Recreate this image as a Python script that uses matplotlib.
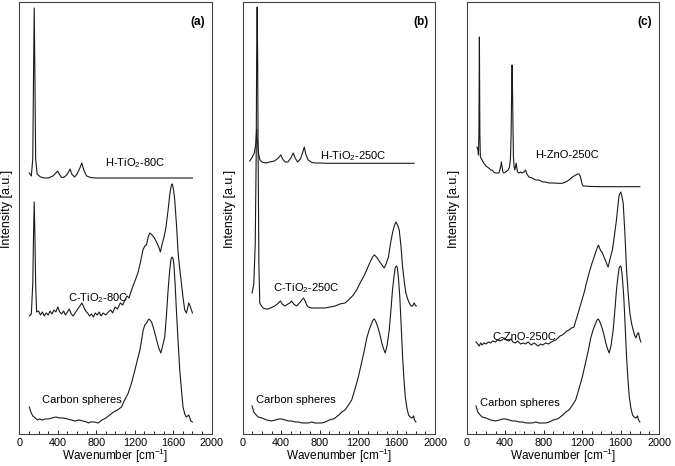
import matplotlib.pyplot as plt
from matplotlib.ticker import MultipleLocator

plt.rcParams['font.family'] = ['Liberation Sans', 'DejaVu Sans']
plt.rcParams['mathtext.fontset'] = 'custom'
plt.rcParams['mathtext.rm'] = 'Liberation Sans'
plt.rcParams['mathtext.it'] = 'Liberation Sans:italic'

# ---- panel (a) ----
a_h_x = [104, 125, 140, 148, 155, 162, 170, 185, 220, 260, 300, 350, 390, 400, 415, 440, 470, 500, 528,
         545, 575, 600, 630, 650, 670, 700, 740, 800, 1000, 1400, 1800]
a_h_y = [261, 258, 275, 360, 426, 360, 275, 260, 257, 256, 256, 258, 262, 263, 260, 256.5, 257, 260, 265,
         260, 257, 260, 266, 271, 264, 258, 256.5, 256, 256, 256, 256]

a_c_x = [104, 125, 140, 148, 155, 162, 170, 180, 200, 220, 240, 260, 280, 300, 320, 340, 360, 380, 400,
         420, 440, 460, 480, 500, 520, 540, 560, 580, 600, 630, 650, 670, 690, 710, 730, 750, 770, 790,
         810, 830, 850, 870, 900, 925, 950, 970, 995, 1020, 1050, 1075, 1098, 1120, 1140, 1167, 1190,
         1210, 1233, 1260, 1285, 1305, 1322, 1340, 1357, 1381, 1405, 1426, 1450, 1467, 1485, 1505, 1525,
         1547, 1565, 1581, 1592, 1605, 1616, 1635, 1651, 1668, 1685, 1700, 1720, 1737, 1750, 1761, 1772,
         1779, 1789, 1800]
a_c_y = [118, 120, 150, 200, 232, 200, 150, 122, 123, 119, 122, 118, 121, 119, 123, 120, 124, 122, 127,
         122, 120, 123, 119, 122, 125, 120, 118, 121, 124, 128, 131, 127, 123, 121, 118, 120, 117, 121,
         119, 122, 118, 121, 119, 122, 124, 121, 127, 125, 131, 129, 134, 138, 136, 144, 150,
         155, 161, 172, 184, 188, 189, 197, 201, 199, 196, 192, 187, 182, 190, 197, 207,
         224, 240, 249, 250, 243, 234, 208, 181, 165, 151, 138, 124, 121, 126, 131, 129,
         127, 124, 121]

a_cs_x = [104, 120, 140, 166, 190, 210, 240, 270, 300, 340, 380, 420, 460, 500, 540, 580, 620, 660, 700,
          720, 740, 780, 820, 860, 900, 940, 980, 1020, 1063, 1090, 1133, 1170, 1202, 1230, 1254, 1275,
          1288, 1305, 1323, 1340, 1350, 1375, 1395, 1409, 1430, 1450, 1471, 1490, 1512, 1530, 1547, 1562,
          1575, 1588, 1600, 1609, 1620, 1633, 1650, 1668, 1685, 1702, 1720, 1737, 1750, 1761, 1770, 1782,
          1800]
a_cs_y = [27, 22, 18, 16, 14, 15, 14, 15, 15, 16, 17, 16, 16, 15, 14, 13, 14, 13, 12,
          11, 12, 12, 11, 14, 16, 19, 22, 24, 27, 33, 41, 52, 64, 75, 84, 96,
          104, 109, 111, 114, 115, 112, 106, 101, 93, 86, 81, 88, 97, 119, 144, 162,
          174, 177, 175, 167, 150, 124, 94, 64, 45, 27, 20, 17, 18, 19, 17, 13,
          12]

# ---- panel (b) ----
b_h_x = [73, 100, 120, 135, 145, 150, 157, 165, 180, 200, 240, 280, 330, 370, 396, 415, 440, 470, 500,
         525, 545, 570, 600, 625, 640, 655, 680, 720, 751, 800, 870, 1000, 1400, 1780]
b_h_y = [273, 277, 281, 289, 305, 295, 290, 280, 274, 272, 271, 272, 273, 276, 279, 275, 272, 272, 276,
         281, 276, 272, 275, 282, 287, 280, 274, 271.5, 271, 271, 270.7, 270.7, 270.7, 270.7]

b_c_x = [97, 115, 130, 140, 145, 150, 155, 160, 168, 177, 195, 212, 240, 264, 290, 310, 334, 360, 380,
         392, 410, 438, 470, 490, 507, 530, 559, 590, 615, 632, 650, 665, 681, 710, 751, 800, 855, 910,
         960, 1010, 1064, 1110, 1150, 1190, 1220, 1255, 1289, 1315, 1335, 1350, 1369, 1390, 1411, 1440,
         1470, 1490, 1515, 1535, 1557, 1575, 1592, 1610, 1627, 1645, 1662, 1680, 1696, 1715, 1731, 1750,
         1766, 1776, 1783, 1793, 1804]
b_c_y = [141, 150, 190, 280, 380, 427, 380, 280, 170, 131, 128, 126, 125, 125, 126, 127, 128, 130, 132,
         133, 130, 128, 130, 131, 133, 130, 128, 131, 134, 136, 133, 129, 127, 126, 126, 126, 126, 127,
         128, 130, 131, 135, 139, 145, 151, 157, 164, 170, 174, 177, 179, 177, 174, 170,
         166, 170, 177, 190, 201, 208, 212, 209, 204, 188, 167, 152, 141, 135, 131, 128,
         128, 130, 131, 129, 128]

# carbon spheres reference, same trace in (b) and (c)
cs_x = [97, 115, 140, 160, 200, 250, 299, 340, 370, 403, 440, 480, 510, 542, 580, 620, 650, 681, 720,
        750, 790, 820, 860, 900, 940, 960, 1000, 1030, 1064, 1100, 1133, 1170, 1202, 1235, 1265, 1290,
        1314, 1330, 1342, 1355, 1369, 1385, 1404, 1425, 1446, 1465, 1481, 1500, 1523, 1540, 1557, 1572,
        1585, 1596, 1606, 1618, 1633, 1648, 1662, 1676, 1690, 1707, 1724, 1740, 1759, 1768, 1776, 1786,
        1800]
cs_y = [28, 22, 19, 17, 16, 14, 13, 14, 15, 15, 14, 13, 13, 12, 12, 11, 11, 11, 12,
        11, 11, 11, 12, 14, 15, 16, 19, 22, 24, 29, 34, 46, 57, 71, 84, 96,
        104, 108, 111, 114, 115, 112, 107, 100, 91, 85, 81, 88, 104, 123, 144, 157,
        166, 168, 167, 157, 137, 107, 77, 55, 37, 26, 19, 17, 16, 17, 18, 14,
        12]

# ---- panel (c) ----
c_h_x = [107, 117, 122, 127, 132, 137, 142, 160, 177, 200, 229, 250, 264, 280, 299, 320, 334, 345, 355,
         361, 368, 376, 386, 405, 431, 445, 455, 462, 467, 472, 477, 482, 486, 492, 500, 507, 514, 521,
         528, 545, 560, 577, 595, 612, 625, 647, 680, 715, 751, 790, 820, 855, 900, 950, 994, 1030, 1064,
         1100, 1133, 1155, 1168, 1180, 1190, 1200, 1210, 1220, 1300, 1400, 1500, 1620, 1800]
c_h_y = [287, 284, 279, 300, 397, 300, 277, 274, 271, 268, 266, 264, 264, 262, 261, 261, 261, 264, 268,
         272, 267, 262, 261, 262, 264, 267, 275, 300, 340, 369, 340, 300, 277, 268, 264, 267, 271, 266,
         262, 261, 262, 261, 262, 264, 260, 257, 256, 254, 254, 252, 252, 251, 251, 250.7, 250.7, 252, 254,
         257, 259, 260, 260, 258, 254, 250, 248, 248, 247.5, 247.3, 247.3, 247.3, 247.3]

c_c_x = [97, 115, 130, 145, 160, 180, 200, 229, 250, 270, 299, 320, 345, 368, 390, 410, 438, 460, 480,
         507, 530, 560, 590, 612, 640, 670, 700, 716, 740, 770, 790, 820, 850, 880, 900, 925, 950, 970,
         994, 1020, 1040, 1064, 1090, 1116, 1130, 1150, 1168, 1195, 1220, 1245, 1272, 1300, 1325, 1345,
         1369, 1390, 1411, 1440, 1470, 1490, 1515, 1535, 1557, 1572, 1585, 1602, 1615, 1627, 1645, 1662,
         1680, 1696, 1715, 1731, 1745, 1759, 1770, 1780, 1787, 1800, 1811]
c_c_y = [92, 90, 88, 91, 89, 91, 90, 92, 91, 93, 92, 94, 93, 94, 96, 94, 93, 95, 92,
         91, 93, 90, 91, 90, 92, 89, 91, 90, 88, 90, 89, 91, 90, 92, 93, 94, 96, 98,
         99, 101, 103, 104, 106, 107, 112, 118, 124, 133, 141, 151, 161, 170, 177, 183,
         189, 184, 181, 174, 167, 175, 184, 198, 214, 228, 239, 242, 237, 231, 200, 164,
         139, 121, 110, 104, 99, 96, 99, 101, 101, 95, 92]

panels = [
    ("(a)", [(a_h_x, a_h_y), (a_c_x, a_c_y), (a_cs_x, a_cs_y)],
     [("H-TiO$_2$-80C", 891, 271), ("C-TiO$_2$-80C", 506, 136), ("Carbon spheres", 233, 34)]),
    ("(b)", [(b_h_x, b_h_y), (b_c_x, b_c_y), (cs_x, cs_y)],
     [("H-TiO$_2$-250C", 803, 278), ("C-TiO$_2$-250C", 316, 146), ("Carbon spheres", 139, 34)]),
    ("(c)", [(c_h_x, c_h_y), (c_c_x, c_c_y), (cs_x, cs_y)],
     [("H-ZnO-250C", 712, 279), ("C-ZnO-250C", 264, 97), ("Carbon spheres", 139, 31)]),
]

fig = plt.figure(figsize=(6.75, 4.66), dpi=100)
lefts = [0.0286, 0.3596, 0.6914]

for left, (tag, curves, labels) in zip(lefts, panels):
    ax = fig.add_axes([left, 0.0687, 0.285, 0.927])
    for x, y in curves:
        ax.plot(x, y, color='#1a1a1a', lw=0.8)
    for txt, tx, ty in labels:
        ax.text(tx, ty, txt, fontsize=8, ha='left', va='center')
    ax.text(1855, 412, tag, fontsize=8.5, fontweight='bold', ha='center', va='center')

    ax.set_xlim(0, 2000)
    ax.set_ylim(0, 432)
    ax.xaxis.set_major_locator(MultipleLocator(400))
    ax.xaxis.set_minor_locator(MultipleLocator(100))
    ax.tick_params(axis='x', which='major', direction='in', length=3, width=0.6, labelsize=7.8, pad=3)
    ax.tick_params(axis='x', which='minor', direction='in', length=2, width=0.6)
    ax.set_yticks([])
    for s in ax.spines.values():
        s.set_color('#444444')
        s.set_linewidth(0.8)
    ax.set_xlabel('Wavenumber [cm$^{-1}$]', fontsize=8.5, labelpad=-1)
    ax.set_ylabel('Intensity [a.u.]', fontsize=9)
    ax.yaxis.set_label_coords(-0.035, 0.52)

fig.savefig('out.png', dpi=100)
